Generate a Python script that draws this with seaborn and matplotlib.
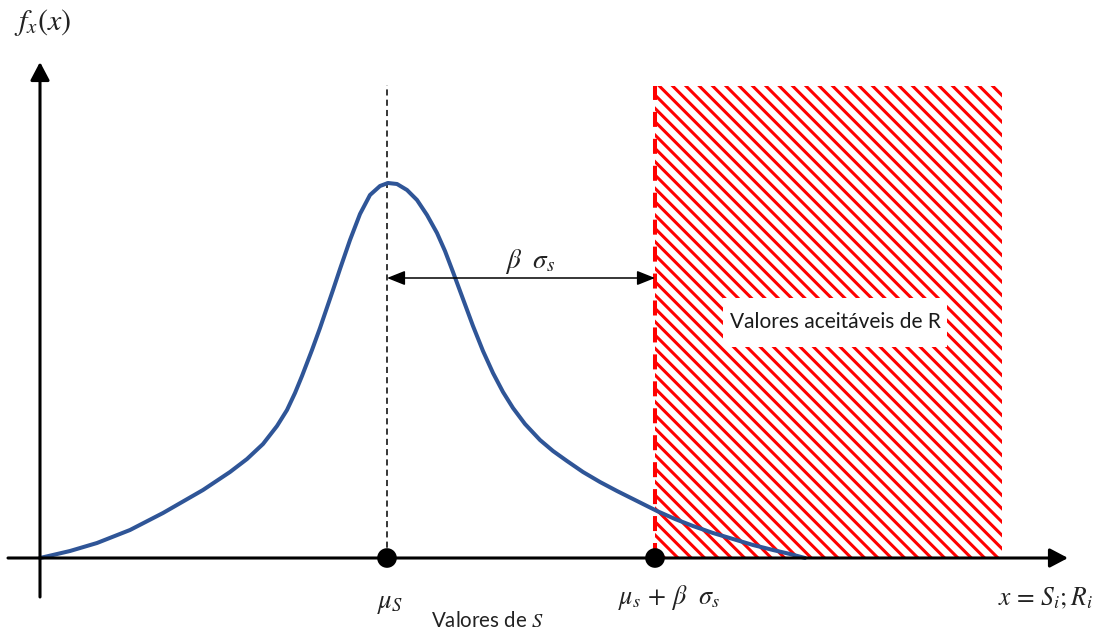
import matplotlib
matplotlib.use("Agg")
import matplotlib.pyplot as plt
import pandas as pd
import seaborn as sns
from matplotlib.patches import Rectangle

# Schematic density of the load S: horizontal position and curve height
curve_x = [0, 30, 57, 90, 123, 163, 190, 207, 223, 237, 247, 255, 262, 272,
           280, 293, 300, 310, 320, 330, 340, 348, 357, 367, 377, 387, 397,
           405, 413, 423, 433, 443, 453, 463, 473, 485, 500, 513, 527, 543,
           560, 577, 593, 617, 635, 653, 673, 693, 713, 733, 750, 765]
curve_y = [0, 7, 15, 28, 45, 68, 86, 99, 114, 132, 148, 165, 182, 208,
           230, 268, 289, 318, 344, 363, 372, 375, 374, 368, 358, 343, 325,
           307, 286, 259, 232, 207, 185, 166, 150, 134, 118, 107, 97, 86,
           76, 67, 59, 47, 39, 32, 25, 19, 13, 8, 4, 0]

mu_s = 347            # mean of S
beta_sigma = 268      # beta * sigma_s
region_right = 962    # right edge of the acceptable-R region
region_top = 472      # top of the acceptable-R region
x_axis_span = (-32, 1028)
y_axis_span = (-39, 496)

labels = {
    "fx": r"$f_x(x)$",
    "mu": r"$\mu_S$",
    "limit": r"$\mu_s\,+\,\beta\ \ \sigma_s$",
    "xaxis": r"$x\,=\,S_i;R_i$",
    "S": r"Valores de $S$",
    "dist": r"$\beta\ \ \sigma_s$",
    "region": "Valores aceitáveis de R",
}

sns.set_style("white")
plt.rcParams["font.family"] = ["Lato", "DejaVu Sans"]
plt.rcParams["mathtext.fontset"] = "stix"
plt.rcParams["lines.scale_dashes"] = False
plt.rcParams["hatch.linewidth"] = 1.1

fig = plt.figure(figsize=(5.485, 3.165), dpi=200)
ax = fig.add_axes([0, 0, 1, 1])
ax.set_xlim(-40, 1057)
ax.set_ylim(-75, 558)
ax.axis("off")

limit = mu_s + beta_sigma

# acceptable region of R (hatched)
ax.add_patch(Rectangle((limit, 0), region_right - limit, region_top,
                       facecolor="white", edgecolor="red", hatch="\\\\\\\\\\",
                       linewidth=0, zorder=1))
ax.plot([limit, limit], [0, region_top], color="red", lw=1.45,
        linestyle=(0, (5.4, 4.3)), zorder=2)

# white label box inside the region
box_cx, box_cy, box_w, box_h = limit + 180, 235.5, 224, 49
ax.add_patch(Rectangle((box_cx - box_w / 2, box_cy - box_h / 2), box_w, box_h,
                       facecolor="white", edgecolor="none", zorder=5))
ax.text(box_cx, box_cy, labels["region"], ha="center", va="center",
        fontsize=7.5, color="#1a1a1a", zorder=6)

# vertical dashed line at the mean
ax.plot([mu_s, mu_s], [0, 473], color="black", lw=0.55,
        linestyle=(0, (2.2, 1.5)), zorder=2)

# density curve
df = pd.DataFrame({"x": curve_x, "y": curve_y})
sns.lineplot(data=df, x="x", y="y", ax=ax, color="#2f5597", lw=1.45,
             sort=False, zorder=4, solid_joinstyle="round",
             solid_capstyle="round")
ax.set_xlabel("")
ax.set_ylabel("")

# axes drawn as arrows
axis_arrow = dict(arrowstyle="-|>,head_length=0.55,head_width=0.29",
                  color="black", lw=1.1, shrinkA=0, shrinkB=0,
                  mutation_scale=10)
ax.annotate("", xy=(x_axis_span[1], 0), xytext=(x_axis_span[0], 0),
            arrowprops=axis_arrow, zorder=5)
ax.annotate("", xy=(0, y_axis_span[1]), xytext=(0, y_axis_span[0]),
            arrowprops=axis_arrow, zorder=5)

# distance beta*sigma_s
dist_arrow = dict(arrowstyle="<|-|>,head_length=0.55,head_width=0.22",
                  color="black", lw=0.55, shrinkA=0, shrinkB=0,
                  mutation_scale=10)
ax.annotate("", xy=(limit, 280), xytext=(mu_s, 280),
            arrowprops=dist_arrow, zorder=5)
ax.text(mu_s + beta_sigma / 2 + 9, 297, labels["dist"], ha="center",
        va="center", fontsize=9.8, color="#222222")

# points on the x axis
sns.scatterplot(x=[mu_s, limit], y=[0, 0], ax=ax, color="black", s=50,
                edgecolor="none", zorder=7)
ax.set_xlabel("")
ax.set_ylabel("")

# text labels
ax.text(3, 536, labels["fx"], ha="center", va="center", fontsize=10.8,
        color="#222222")
ax.text(mu_s + 3, -46, labels["mu"], ha="center", va="center", fontsize=9.6,
        color="#222222")
ax.text(limit + 14, -40, labels["limit"], ha="center", va="center",
        fontsize=9.4, color="#222222")
ax.text(1005, -40, labels["xaxis"], ha="center", va="center", fontsize=9.2,
        color="#222222")
ax.text(447, -63, labels["S"], ha="center", va="center", fontsize=7.4,
        color="#222222")

fig.savefig("out.png", dpi=200)
